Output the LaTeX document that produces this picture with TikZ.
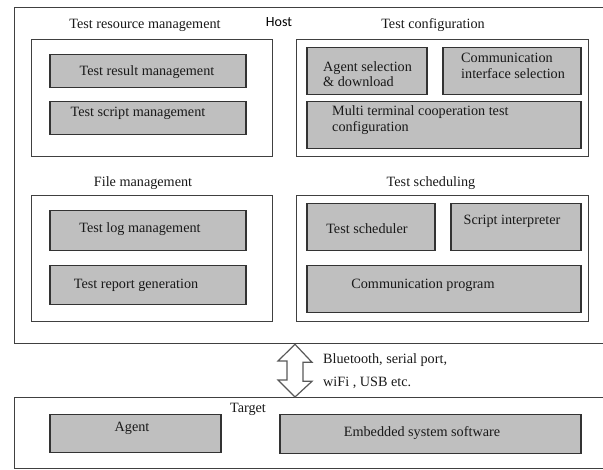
\documentclass[tikz,border=0pt]{standalone}
\usepackage{fontspec}
\setmainfont{Liberation Serif}
\newfontfamily\hostfont{Carlito}
\begin{document}
\begin{tikzpicture}[x=1pt,y=-1pt,
  outerbox/.style={draw=black!75,line width=1.3pt,fill=white,anchor=north west,inner sep=0pt},
  gbox/.style={draw=black!80,line width=1.5pt,fill=black!25,anchor=north west,inner sep=0pt},
  txt/.style={inner sep=0pt,font=\fontsize{14.2}{15.5}\selectfont,text=black!90},
  dblarrow/.style={draw=black!65,line width=1.2pt,fill=white,line join=miter}]
\useasboundingbox (0,0) rectangle (603,470);
\clip (0,0) rectangle (603,470);
% outer boxes
\node[outerbox,minimum width=601pt,minimum height=336pt] (host) at (14,7) {};
\node[outerbox,minimum width=601pt,minimum height=71pt] (target) at (14,397) {};
% group boxes
\node[outerbox,minimum width=241pt,minimum height=117pt] (trm) at (31,39) {};
\node[outerbox,minimum width=292pt,minimum height=117pt] (tc) at (296,39) {};
\node[outerbox,minimum width=241pt,minimum height=126pt] (fm) at (31,195) {};
\node[outerbox,minimum width=292pt,minimum height=126pt] (ts) at (296,195) {};
% gray boxes
\node[gbox,minimum width=196pt,minimum height=33pt] (trm1) at (49,54) {};
\node[gbox,minimum width=196pt,minimum height=33pt] (trm2) at (49,101) {};
\node[gbox,minimum width=120pt,minimum height=47pt] (tc1) at (306,47) {};
\node[gbox,minimum width=138pt,minimum height=47pt] (tc2) at (442,47) {};
\node[gbox,minimum width=274pt,minimum height=47pt] (tc3) at (306,101) {};
\node[gbox,minimum width=196pt,minimum height=40pt] (fm1) at (49,210) {};
\node[gbox,minimum width=196pt,minimum height=39pt] (fm2) at (49,265) {};
\node[gbox,minimum width=128pt,minimum height=47pt] (ts1) at (306,203) {};
\node[gbox,minimum width=130pt,minimum height=47pt] (ts2) at (450,203) {};
\node[gbox,minimum width=274pt,minimum height=47pt] (ts3) at (306,265) {};
\node[gbox,minimum width=171pt,minimum height=38pt] (ag) at (49,414) {};
\node[gbox,minimum width=301pt,minimum height=39pt] (es) at (279,414) {};
% labels
\node[txt] (ltrm) at (145,25) {Test resource management};
\node[inner sep=0pt,font=\hostfont\fontsize{14}{15}\selectfont] (lhost) at (279,22) {Host};
\node[txt] (ltc) at (433,25) {Test configuration};
\node[txt] (lfm) at (143,183) {File management};
\node[txt] (lts) at (431,183) {Test scheduling};
\node[txt] (ltarget) at (248,409) {Target};
% box texts
\node[txt] (ttrm1) at (147,72) {Test result management};
\node[txt] (ttrm2) at (138,113) {Test script management};
\node[txt,align=left,anchor=west] (ttc1) at (323,74) {Agent selection\\\& download};
\node[txt,align=left,anchor=west] (ttc2) at (461,66) {Communication\\interface selection};
\node[txt,align=left,anchor=west] (ttc3) at (332,120) {Multi terminal cooperation test\\configuration};
\node[txt] (tfm1) at (140,229) {Test log management};
\node[txt] (tfm2) at (136,285) {Test report generation};
\node[txt] (tts1) at (367,229) {Test scheduler};
\node[txt] (tts2) at (512,221) {Script interpreter};
\node[txt] (tts3) at (423,285) {Communication program};
\node[txt] (tag) at (132,428) {Agent};
\node[txt] (tes) at (422,433) {Embedded system software};
% double arrow between host and target
\coordinate (ua) at (host.south -| 295,0);
\draw[dblarrow] (ua) -- ++(17,18) -- ++(-9,0) -- ++(0,19) -- ++(9,0)
  -- (target.north -| 295,0) -- ++(-17,-17) -- ++(9,0) -- ++(0,-19) -- ++(-9,0) -- cycle;
\node[txt,align=left,anchor=west] (lbt) at (323,360) {Bluetooth, serial port,};
\node[txt,align=left,anchor=west] (lwifi) at (323,383) {wiFi , USB etc.};
\end{tikzpicture}
\end{document}
